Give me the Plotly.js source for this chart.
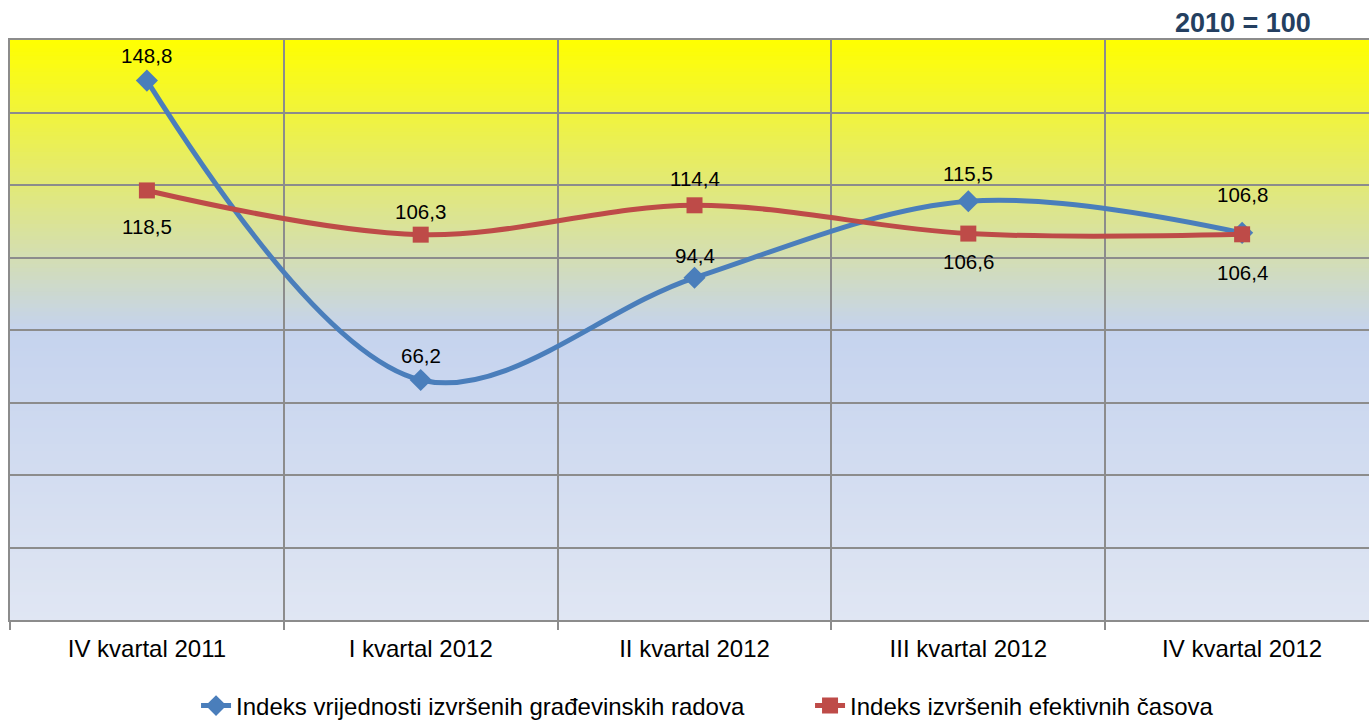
<!DOCTYPE html>
<html>
<head>
<meta charset="utf-8">
<script src="https://cdn.plot.ly/plotly-3.0.1.min.js"></script>
<style>
html,body{margin:0;padding:0;background:#fff;overflow:hidden;}
#chart{width:1369px;height:723px;}
</style>
</head>
<body>
<div id="chart"></div>
<script>
var categories = ["IV kvartal 2011", "I kvartal 2012", "II kvartal 2012", "III kvartal 2012", "IV kvartal 2012"];
var seriesNames = ["Indeks vrijednosti izvršenih građevinskih radova", "Indeks izvršenih efektivnih časova"];
var valuesRadovi = [148.8, 66.2, 94.4, 115.5, 106.8];
var valuesCasovi = [118.5, 106.3, 114.4, 106.6, 106.4];
var yTicks = [0, 20, 40, 60, 80, 100, 120, 140, 160];
var baseNote = "2010 = 100";

// label vertical offsets (px, style only)
var offRadovi = [25, 25, 22, 28, 38];
var offCasovi = [-36, 23, 27, -28, -38];

function fmt(v){ return v.toFixed(1).replace('.', ','); }

function hex(c){ return '#' + c.map(function(v){ var s = Math.round(v).toString(16); return s.length<2?'0'+s:s; }).join(''); }
function lerp(a,b,t){ return [a[0]+(b[0]-a[0])*t, a[1]+(b[1]-a[1])*t, a[2]+(b[2]-a[2])*t]; }
var cTop=[255,255,0], cMid=[197,211,238], cBot=[224,230,243];
var shapes=[];
var N=145;
for(var i=0;i<N;i++){
  var t=(i+0.5)/N;
  var col = t<0.5 ? lerp(cTop,cMid,t/0.5) : lerp(cMid,cBot,(t-0.5)/0.5);
  shapes.push({type:'rect', xref:'paper', yref:'paper', x0:0, x1:1, y0:1-(i+1)/N, y1:1-i/N + 0.0005,
    fillcolor:hex(col), line:{width:0}, layer:'below'});
}

var font = "Liberation Sans, Arial, sans-serif";
var traces = [
  {
    x: categories, y: valuesRadovi, name: seriesNames[0], type:'scatter', mode:'lines+markers',
    line:{color:'#4A7EBB', width:5, shape:'spline', smoothing:1},
    marker:{symbol:'diamond', size:17, color:'#4A7EBB'},
    hoverinfo:'skip', cliponaxis:false, legend:'legend'
  },
  {
    x: categories, y: valuesCasovi, name: seriesNames[1], type:'scatter', mode:'lines+markers',
    line:{color:'#BE4B48', width:5, shape:'spline', smoothing:1},
    marker:{symbol:'square', size:16, color:'#BE4B48'},
    hoverinfo:'skip', cliponaxis:false, legend:'legend2'
  }
];

var annotations = [];
function addLabels(vals, offs){
  vals.forEach(function(v, k){
    annotations.push({x: categories[k], y: v, xref:'x', yref:'y', text: fmt(v), showarrow:false,
      yshift: offs[k], xanchor:'center', yanchor:'middle', font:{family:font, size:20.5, color:'#000'}});
  });
}
addLabels(valuesRadovi, offRadovi);
addLabels(valuesCasovi, offCasovi);
annotations.push({text:'<b>'+baseNote+'</b>', xref:'paper', yref:'paper', x:0.9588, xanchor:'right',
    y:1, yanchor:'bottom', yshift:0, showarrow:false, font:{family:font, size:27, color:'#243F60'}});

var legFont = {family:font, size:24, color:'#000'};
var layout = {
  width:1369, height:723,
  margin:{l:10, r:0, t:40, b:103},
  paper_bgcolor:'#ffffff', plot_bgcolor:'rgba(0,0,0,0)',
  font:{family:font, size:24, color:'#000'},
  showlegend:true,
  legend:{orientation:'h', xref:'container', yref:'container', x:0.1432, xanchor:'left', y:0.0235, yanchor:'middle',
    font:legFont, bgcolor:'rgba(0,0,0,0)', itemwidth:30},
  legend2:{orientation:'h', xref:'container', yref:'container', x:0.5917, xanchor:'left', y:0.0235, yanchor:'middle',
    font:legFont, bgcolor:'rgba(0,0,0,0)', itemwidth:30},
  xaxis:{type:'category', range:[-0.5, 4.4634], tickson:'boundaries',
    showgrid:true, gridcolor:'#8C8C8C', gridwidth:2,
    showline:true, linecolor:'#8C8C8C', linewidth:2, mirror:true,
    ticks:'outside', ticklen:8, tickcolor:'#8C8C8C', tickwidth:2,
    tickfont:{family:font, size:24, color:'#000'}, ticklabelstandoff:6, fixedrange:true, automargin:false},
  yaxis:{range:[0,160], tickvals:yTicks, showticklabels:false,
    showgrid:true, gridcolor:'#8C8C8C', gridwidth:2, zeroline:false,
    showline:true, linecolor:'#8C8C8C', linewidth:2, ticks:'', fixedrange:true, automargin:false},
  shapes: shapes,
  annotations: annotations
};

Plotly.newPlot('chart', traces, layout, {displayModeBar:false, staticPlot:true});
</script>
</body>
</html>
